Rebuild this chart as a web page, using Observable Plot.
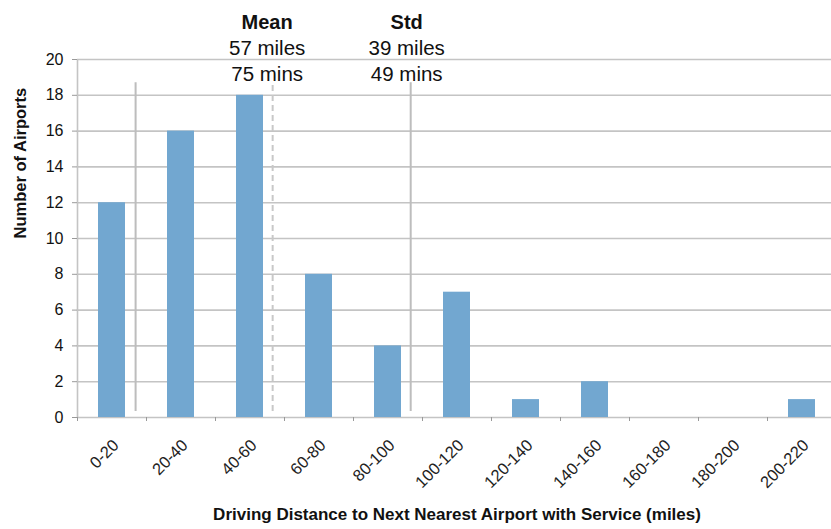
<!DOCTYPE html>
<html><head><meta charset="utf-8">
<script src="https://cdn.jsdelivr.net/npm/d3@7"></script>
<script src="https://cdn.jsdelivr.net/npm/@observablehq/plot@0.6"></script>
<style>body{margin:0;background:#fff}</style>
</head><body><div id="chart"></div><script>
const categories = ["0-20","20-40","40-60","60-80","80-100","100-120","120-140","140-160","160-180","180-200","200-220"];
const counts = [12,16,18,8,4,7,1,2,0,0,1];
const yTicks = [0,2,4,6,8,10,12,14,16,18,20];
const xBreaks = [0,20,40,60,80,100,120,140,160,180,200,220];
const meanMiles = 57, meanMins = 75, stdMiles = 39, stdMins = 49;
const xTitle = "Driving Distance to Next Nearest Airport with Service (miles)";
const yTitle = "Number of Airports";

const data = categories.map((c, i) => {
  const [lo, hi] = c.split("-").map(Number);
  return {c, lo, hi, mid: (lo + hi) / 2, n: counts[i]};
});

const grid = "#c4c4c4";
const plot = Plot.plot({
  width: 831, height: 529,
  marginTop: 59, marginBottom: 112, marginLeft: 77, marginRight: -5,
  style: {fontFamily: "'Liberation Sans', Arial, sans-serif", background: "#fff", color: "#111"},
  x: {domain: [0, 220]},
  y: {domain: [0, 20]},
  marks: [
    Plot.gridY(yTicks, {stroke: grid, strokeOpacity: 1, strokeWidth: 1.6}),
    Plot.ruleX([0], {y1: 0, y2: 20, stroke: grid, strokeWidth: 1.6}),
    Plot.axisY(yTicks, {tickSize: 5, tickPadding: 9, fontSize: 16, stroke: "#999", fill: "#111", label: null}),
    Plot.axisX(xBreaks, {tickSize: 4, tickFormat: () => "", stroke: "#999", label: null}),
    Plot.rectY(data, {x1: "lo", x2: "hi", y1: 0, y2: "n", fill: "#72a7d0", insetLeft: 21, insetRight: 21}),
    Plot.ruleX([meanMiles - stdMiles], {y1: 0.33, y2: 18.7, dx: -4, stroke: "#bdbdbd", strokeWidth: 2}),
    Plot.ruleX([meanMiles + stdMiles], {y1: 0.33, y2: 18.7, dx: 2, stroke: "#bdbdbd", strokeWidth: 2}),
    Plot.ruleX([meanMiles], {y1: 0.33, y2: 18.7, dx: -1.5, stroke: "#c8c8c8", strokeWidth: 2, strokeDasharray: "6,4"}),
    Plot.text(data, {x: "mid", y: 0, text: "c", rotate: -45, textAnchor: "end", dx: 4, dy: 25, fontSize: 16.5, fill: "#222"}),
    Plot.text(["Mean"], {x: meanMiles, y: 20, dx: -7, dy: -37, fontWeight: "bold", fontSize: 20}),
    Plot.text([`${meanMiles} miles\n${meanMins} mins`], {x: meanMiles, y: 20, dx: -7, dy: 0.5, lineHeight: 1.25, fontSize: 20.5}),
    Plot.text(["Std"], {x: meanMiles + stdMiles, y: 20, dx: -2, dy: -37, fontWeight: "bold", fontSize: 20}),
    Plot.text([`${stdMiles} miles\n${stdMins} mins`], {x: meanMiles + stdMiles, y: 20, dx: -2, dy: 0.5, lineHeight: 1.25, fontSize: 20.5}),
    Plot.text([xTitle], {frameAnchor: "bottom", dy: 102, fontWeight: "bold", fontSize: 17}),
    Plot.text([yTitle], {frameAnchor: "left", rotate: -90, dx: -57, fontWeight: "bold", fontSize: 16.5})
  ]
});
document.getElementById("chart").append(plot);
</script></body></html>
